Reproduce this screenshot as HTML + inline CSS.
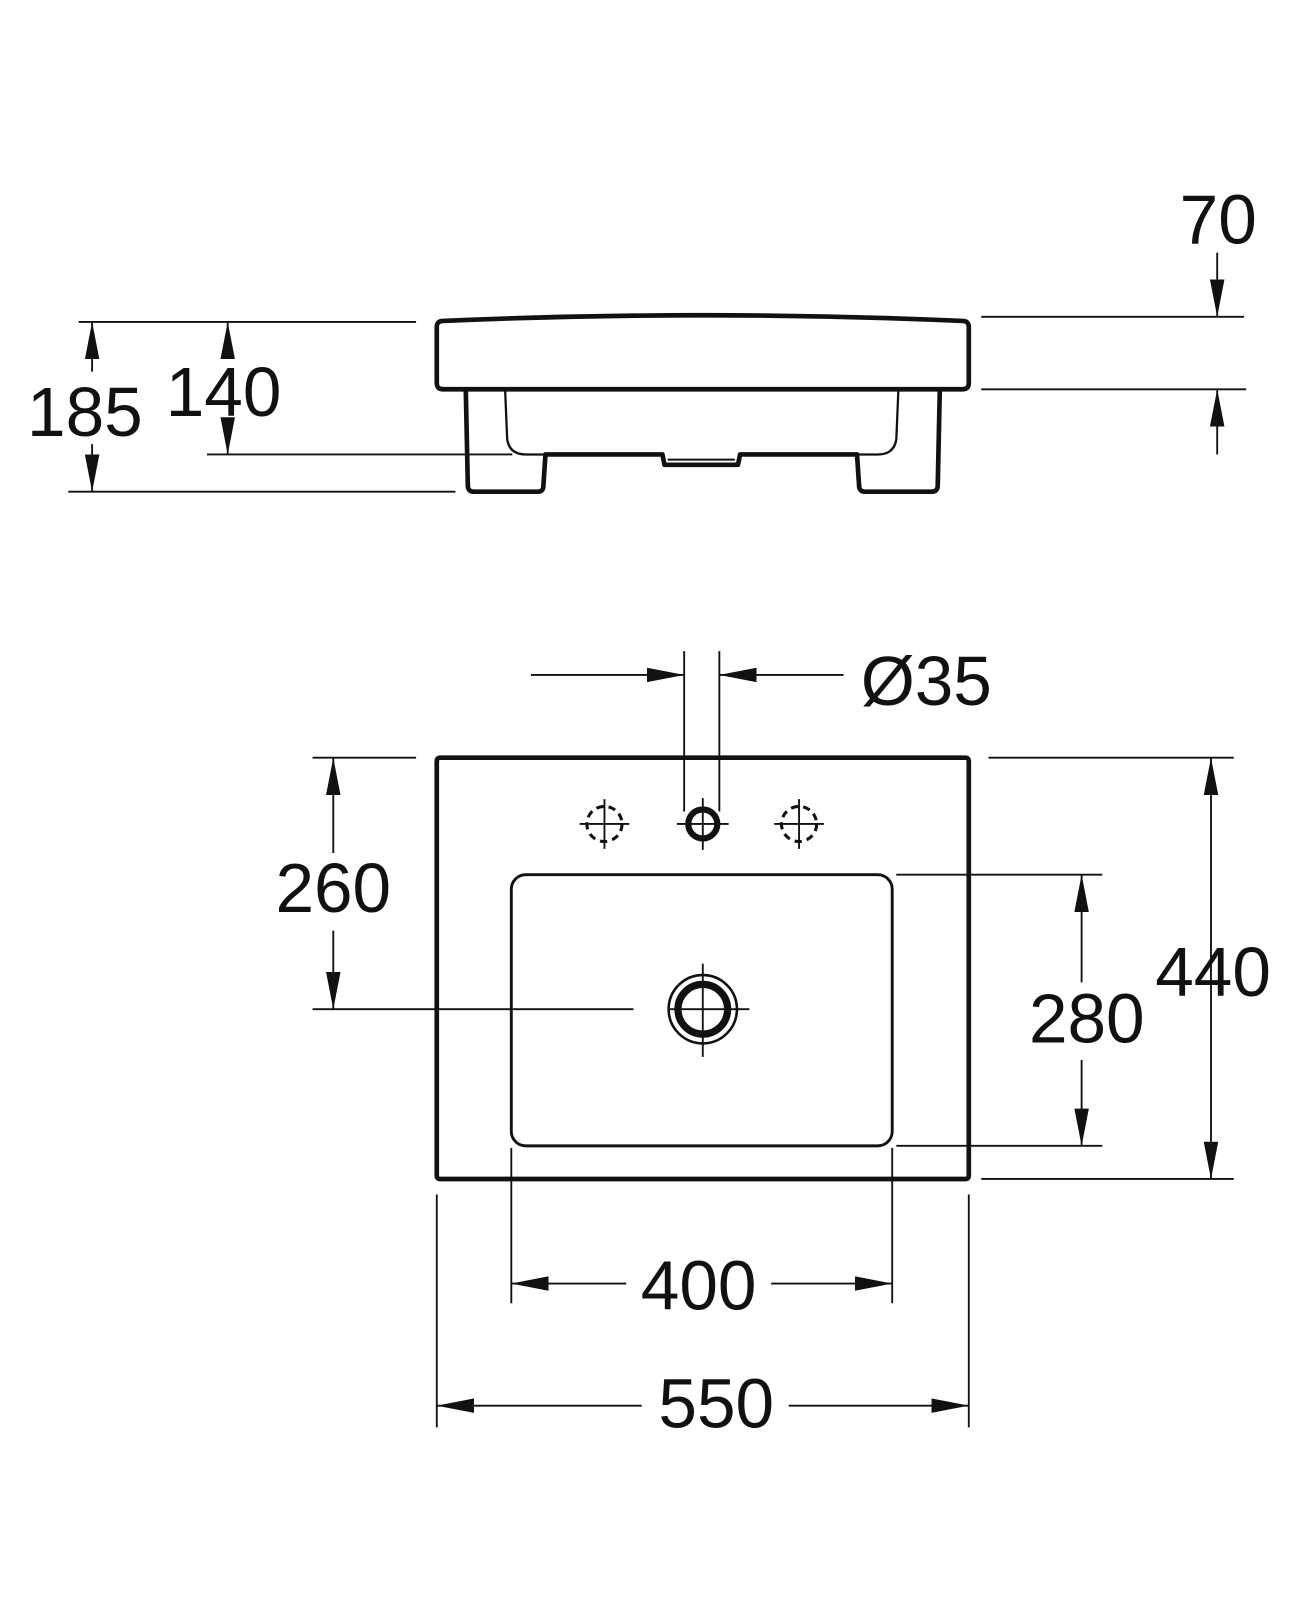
<!DOCTYPE html>
<html><head><meta charset="utf-8"><style>html,body{margin:0;padding:0;background:#fff}svg{display:block}</style></head>
<body>
<svg width="1300" height="1620" viewBox="0 1 1256 1565" xmlns="http://www.w3.org/2000/svg">
<defs>
<marker id="a" markerWidth="36" markerHeight="14" refX="36" refY="7" orient="auto-start-reverse" markerUnits="userSpaceOnUse"><path d="M0,0 L36,7 L0,14 Z" fill="#111"/></marker>
</defs>
<g fill="none" stroke="#111" stroke-linejoin="round">
<path d="M428,311 Q680,300 930,311 Q936,311 936,317 L936,371 Q936,377 930,377 L428,377 Q422,377 422,371 L422,317 Q422,311 428,311 Z" stroke-width="4.5"/>
<path d="M450,377 L452,470 Q452,476 458,476 L520,476 Q525,476 525,470 L527,440 L640,440 L642,450 L713,450 L715,440 L828,440 L830,470 Q830,476 836,476 L900,476 Q906,476 906,470 L908,377" stroke-width="4.5"/>
<path d="M488,377 L490,425 Q492,440 508,440 L527,440 M868,377 L866,425 Q864,440 848,440 L830,440" stroke-width="2.2"/>
<path d="M645,445 L710,445" stroke-width="2"/>
<g stroke-width="1.8">
<line x1="76" y1="312" x2="402" y2="312"/><line x1="66" y1="476" x2="440" y2="476"/><line x1="200" y1="440" x2="495" y2="440"/>
<line x1="948" y1="307" x2="1202" y2="307"/><line x1="948" y1="377" x2="1204" y2="377"/>
<line x1="89" y1="312" x2="89" y2="360" marker-start="url(#a)"/><line x1="89" y1="430" x2="89" y2="476" marker-end="url(#a)"/>
<line x1="220" y1="312" x2="220" y2="345" marker-start="url(#a)"/><line x1="220" y1="410" x2="220" y2="440" marker-end="url(#a)"/>
<line x1="1176" y1="245" x2="1176" y2="307" marker-end="url(#a)"/><line x1="1176" y1="440" x2="1176" y2="377" marker-end="url(#a)"/>
</g>
<rect x="422" y="733" width="514" height="407" rx="3" stroke-width="4.5"/>
<rect x="494" y="846" width="368" height="262" rx="14" stroke-width="2.8"/>
<circle cx="679" cy="797" r="14" stroke-width="6"/>
<g stroke-width="3" stroke-dasharray="7,5"><circle cx="584" cy="797" r="17"/><circle cx="772" cy="797" r="17"/></g>
<circle cx="679" cy="976" r="33" stroke-width="2.5"/>
<circle cx="679" cy="976" r="24" stroke-width="7"/>
<g stroke-width="1.8">
<path d="M654,797 H704 M679,772 V822 M560,797 H608 M584,773 V821 M748,797 H796 M772,773 V821 M645,976 H724 M679,932 V1022"/>
<line x1="661" y1="630" x2="661" y2="785"/><line x1="695" y1="630" x2="695" y2="785"/>
<line x1="513" y1="653" x2="661" y2="653" marker-end="url(#a)"/><line x1="815" y1="653" x2="695" y2="653" marker-end="url(#a)"/>
<line x1="302" y1="733" x2="402" y2="733"/><line x1="302" y1="976" x2="612" y2="976"/>
<line x1="322" y1="733" x2="322" y2="825" marker-start="url(#a)"/><line x1="322" y1="900" x2="322" y2="976" marker-end="url(#a)"/>
<line x1="866" y1="846" x2="1065" y2="846"/><line x1="866" y1="1108" x2="1065" y2="1108"/>
<line x1="1045" y1="846" x2="1045" y2="950" marker-start="url(#a)"/><line x1="1045" y1="1025" x2="1045" y2="1108" marker-end="url(#a)"/>
<line x1="955" y1="733" x2="1192" y2="733"/><line x1="948" y1="1140" x2="1192" y2="1140"/>
<line x1="1170" y1="733" x2="1170" y2="1140" marker-start="url(#a)" marker-end="url(#a)"/>
<line x1="494" y1="1110" x2="494" y2="1260"/><line x1="862" y1="1110" x2="862" y2="1260"/>
<line x1="494" y1="1241" x2="605" y2="1241" marker-start="url(#a)"/><line x1="745" y1="1241" x2="862" y2="1241" marker-end="url(#a)"/>
<line x1="422" y1="1155" x2="422" y2="1380"/><line x1="936" y1="1155" x2="936" y2="1380"/>
<line x1="422" y1="1359" x2="620" y2="1359" marker-start="url(#a)"/><line x1="762" y1="1359" x2="936" y2="1359" marker-end="url(#a)"/>
</g>
</g>
<g font-family="Liberation Sans, Arial, sans-serif" font-size="67" fill="#111" text-anchor="middle">
<text x="82" y="422">185</text>
<text x="216" y="403">140</text>
<text x="1177" y="236">70</text>
<text x="895" y="682">Ø35</text>
<text x="322" y="882">260</text>
<text x="1050" y="1008">280</text>
<text x="1172" y="963">440</text>
<text x="675" y="1266">400</text>
<text x="692" y="1380">550</text>
</g>
</svg>
</body></html>
